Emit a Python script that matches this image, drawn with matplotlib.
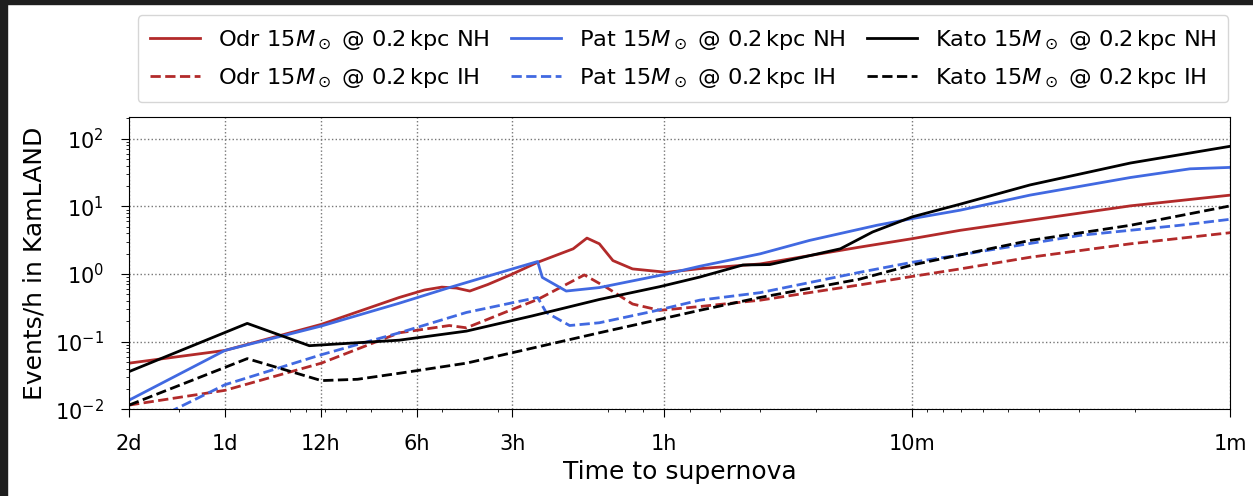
import matplotlib.pyplot as plt
from matplotlib.patches import Rectangle

# time to supernova in minutes, rate in events/h
odr_nh_t = [2880, 1440, 717, 408, 340, 300, 270, 245, 215, 180, 150, 116, 105, 96, 87, 75.5, 59, 46.5, 30, 14.6, 10, 7.06, 4.26, 2.06, 1]
odr_nh_y = [0.048, 0.074, 0.18, 0.45, 0.58, 0.64, 0.62, 0.56, 0.7, 1.0, 1.49, 2.36, 3.4, 2.8, 1.58, 1.19, 1.06, 1.2, 1.41, 2.5, 3.33, 4.43, 6.25, 10.2, 14.7]

pat_nh_t = [2880, 1440, 717, 408, 284, 180, 150, 145, 122, 96, 59, 46.5, 30, 21, 12.9, 10, 7.06, 4.26, 2.06, 1.34, 1]
pat_nh_y = [0.0136, 0.074, 0.17, 0.37, 0.63, 1.19, 1.53, 0.89, 0.56, 0.63, 1.0, 1.3, 1.99, 3.14, 5.26, 6.6, 8.8, 14.7, 26.8, 36, 37.8]

kato_nh_t = [2880, 1225, 782, 408, 251, 156, 96, 62, 46.5, 34, 28, 16.8, 13.3, 10, 7.06, 4.26, 2.06, 1]
kato_nh_y = [0.036, 0.186, 0.087, 0.105, 0.143, 0.24, 0.42, 0.65, 0.9, 1.36, 1.38, 2.36, 4.19, 7.0, 10.8, 20.8, 43.9, 77.7]

odr_ih_t = [2880, 1440, 717, 408, 284, 251, 180, 150, 107, 91, 75.5, 62, 46.5, 30, 14.6, 10, 7.06, 4.26, 2.06, 1]
odr_ih_y = [0.0115, 0.019, 0.048, 0.135, 0.173, 0.16, 0.30, 0.42, 0.97, 0.63, 0.36, 0.29, 0.33, 0.41, 0.69, 0.92, 1.19, 1.77, 2.8, 4.09]

pat_ih_t = [2880, 1440, 717, 408, 251, 150, 141, 119, 96, 65.3, 46.5, 30, 14.6, 10, 7.06, 6.1, 2.97, 1.44, 1]
pat_ih_y = [0.0046, 0.023, 0.064, 0.135, 0.27, 0.45, 0.27, 0.173, 0.19, 0.28, 0.41, 0.53, 1.06, 1.49, 1.92, 2.15, 3.73, 5.26, 6.46]

kato_ih_t = [2880, 1225, 717, 552, 408, 251, 156, 96, 59, 46.5, 30, 14.6, 10, 7.06, 4.26, 2.06, 1]
kato_ih_y = [0.0115, 0.056, 0.0265, 0.0277, 0.034, 0.048, 0.080, 0.135, 0.225, 0.29, 0.45, 0.84, 1.36, 1.92, 3.14, 5.26, 10.2]

tick_pos = [2880, 1440, 720, 360, 180, 60, 10, 1]
tick_lab = ['2d', '1d', '12h', '6h', '3h', '1h', '10m', '1m']

red = '#b22a2a'
blue = '#4169e1'
tag = r' 15$M_\odot$ @ 0.2$\,$kpc '

fig = plt.figure(figsize=(12.53, 4.96), dpi=100)
ax = fig.add_axes([0.103, 0.175, 0.879, 0.589])

ax.plot(odr_nh_t, odr_nh_y, color=red, lw=2, label='Odr' + tag + 'NH')
ax.plot(odr_ih_t, odr_ih_y, color=red, lw=2, ls='--', label='Odr' + tag + 'IH')
ax.plot(pat_nh_t, pat_nh_y, color=blue, lw=2, label='Pat' + tag + 'NH')
ax.plot(pat_ih_t, pat_ih_y, color=blue, lw=2, ls='--', label='Pat' + tag + 'IH')
ax.plot(kato_nh_t, kato_nh_y, color='black', lw=2, label='Kato' + tag + 'NH')
ax.plot(kato_ih_t, kato_ih_y, color='black', lw=2, ls='--', label='Kato' + tag + 'IH')

ax.set_xscale('log')
ax.set_yscale('log')
ax.set_xlim(2880, 1)
ax.set_ylim(1e-2, 2.1e2)
ax.set_xticks(tick_pos)
ax.set_xticklabels(tick_lab)
ax.tick_params(which='major', labelsize=15, length=6, pad=12)
ax.grid(True, which='major', ls=':', color='#777777', lw=1)
ax.set_xlabel('Time to supernova', fontsize=18, labelpad=4)
ax.set_ylabel('Events/h in KamLAND', fontsize=18, labelpad=6)

fig.legend(loc='upper center', bbox_to_anchor=(0.545, 0.992), ncol=3, fontsize=16.2,
           columnspacing=1.0, handlelength=2.2, labelspacing=0.65, borderpad=0.56)

# dark screenshot border
fig.add_artist(Rectangle((0, 0), 7 / 1253, 1, transform=fig.transFigure, color='#1e1e1e'))
fig.add_artist(Rectangle((0, 1 - 4 / 496), 1, 4 / 496, transform=fig.transFigure, color='#1e1e1e'))

fig.savefig('out.png', dpi=100)
